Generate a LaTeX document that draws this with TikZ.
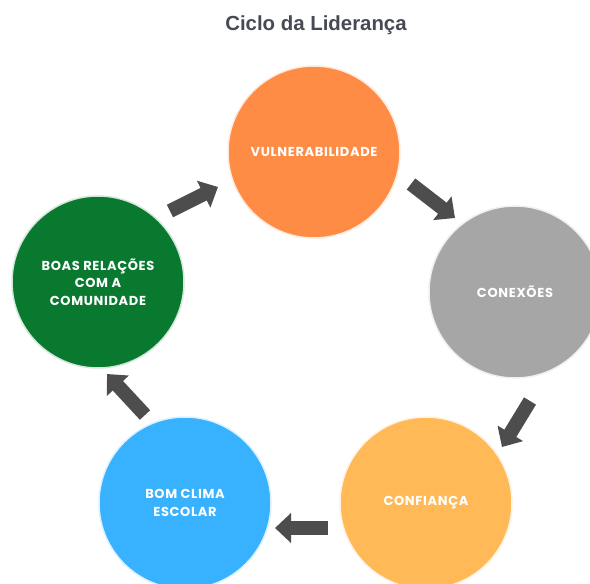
\documentclass[tikz,border=0pt]{standalone}
\usepackage{fontspec}
\setmainfont{Liberation Sans}
\newfontfamily\lblfont[LetterSpace=5]{Poppins}
\usetikzlibrary{arrows.meta}
\definecolor{cOrange}{HTML}{FF8C45}
\definecolor{cGray}{HTML}{A6A6A6}
\definecolor{cGold}{HTML}{FFB957}
\definecolor{cBlue}{HTML}{38B1FF}
\definecolor{cGreen}{HTML}{08792F}
\definecolor{cArrow}{HTML}{4D4D4D}
\definecolor{cTitle}{HTML}{464A55}
\tikzset{
  stage/.style={circle, fill=#1, draw=#1!18, line width=1.5pt, minimum size=172pt, inner sep=0pt,
    text=white, align=center, font=\lblfont\bfseries\fontsize{13}{17.5}\selectfont},
  blockarrow/.style={draw=cArrow, line width=14pt, -{Triangle[length=16pt, width=29pt]}},
}
\begin{document}
\begin{tikzpicture}[x=1pt, y=-1pt]
\useasboundingbox (0,0) rectangle (590,584);
\clip (0,0) rectangle (590,584);
\node[font=\bfseries\fontsize{20.4}{24}\selectfont, text=cTitle] (title) at (316,25.5) {Ciclo da Liderança};
\node[stage=cOrange] (vul) at (314,152) {VULNERABILIDADE};
\node[stage=cGray] (con) at (515,292) {CONEXÕES};
\node[stage=cGold] (conf) at (426,503) {CONFIANÇA};
\node[stage=cBlue] (bom) at (185,503) {BOM CLIMA\\ESCOLAR};
\node[stage=cGreen] (boas) at (98,282) {BOAS RELAÇÕES\\COM A\\COMUNIDADE};
\coordinate (a1s) at (170,211); \coordinate (a1e) at (218,187);
\coordinate (a2s) at (411,184); \coordinate (a2e) at (455,218);
\coordinate (a3s) at (530,401); \coordinate (a3e) at (502,447);
\coordinate (a4s) at (328,528); \coordinate (a4e) at (275,528);
\coordinate (a5s) at (145,415); \coordinate (a5e) at (107,374);
\draw[blockarrow] (a1s) -- (a1e);
\draw[blockarrow] (a2s) -- (a2e);
\draw[blockarrow] (a3s) -- (a3e);
\draw[blockarrow] (a4s) -- (a4e);
\draw[blockarrow] (a5s) -- (a5e);
\end{tikzpicture}
\end{document}
